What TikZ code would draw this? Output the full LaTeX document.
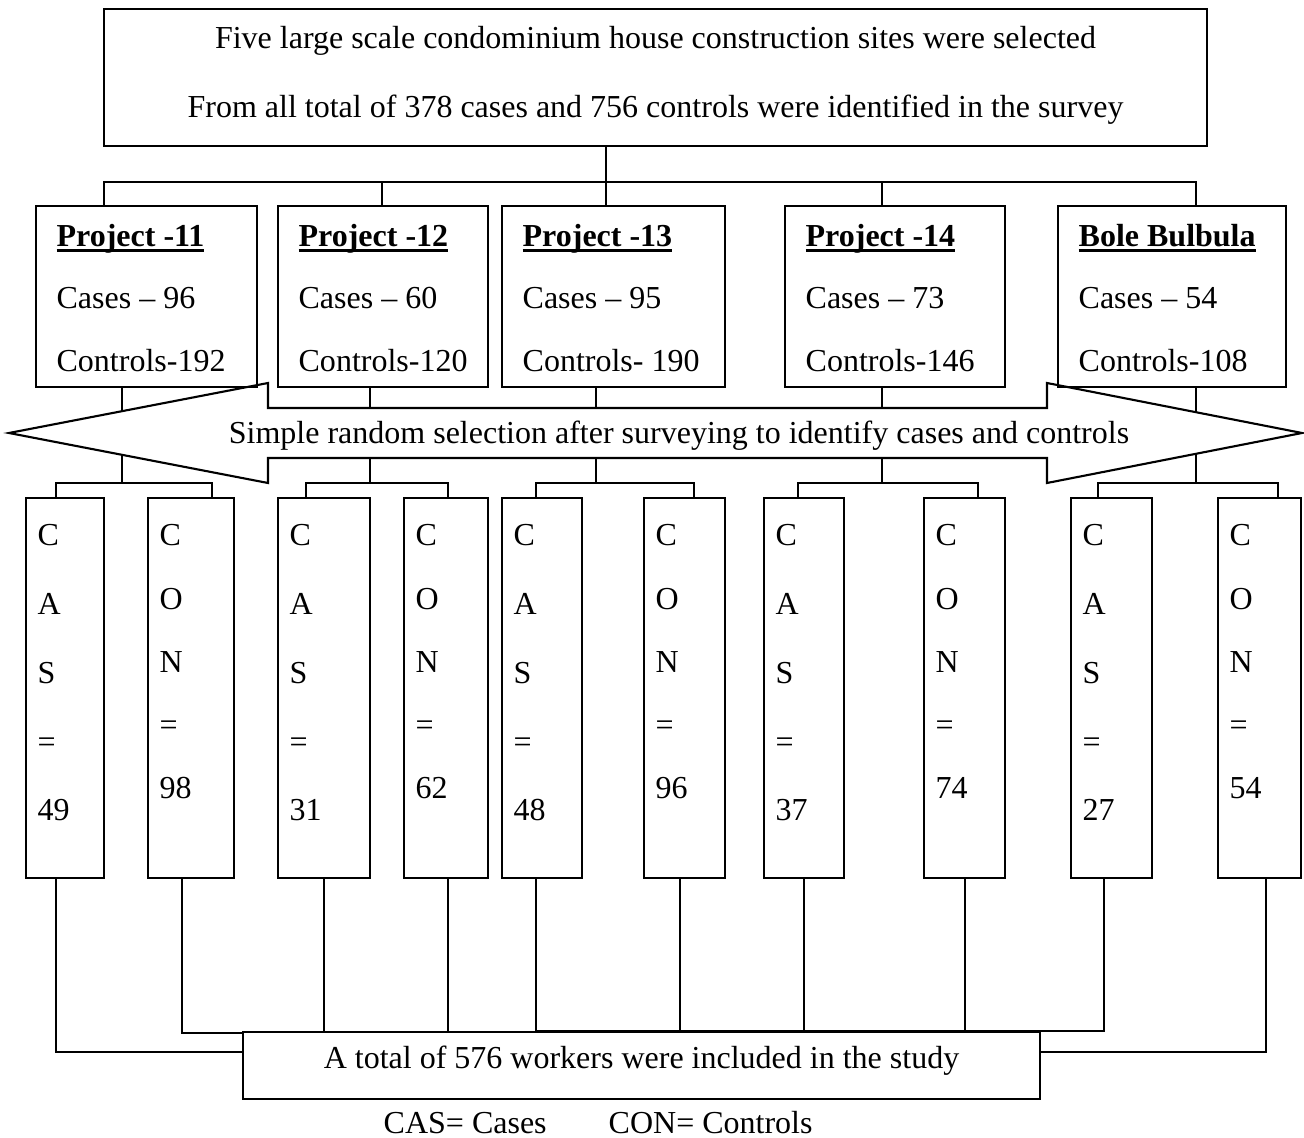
\documentclass[tikz,border=0pt]{standalone}
\usepackage{fontspec}
\setmainfont{Liberation Serif}
\usetikzlibrary{calc,fit,backgrounds}
\tikzset{
	sitebox/.style={draw, line width=0.6pt, inner sep=0pt, fit={#1}},
	txt/.style={anchor=base west, inner sep=0pt, font=\fontsize{9.1pt}{11pt}\selectfont},
	link/.style={line width=0.6pt}
}
\newcommand\ulb[1]{\setbox0\hbox{\textbf{#1}}\rlap{\rule[-1.4pt]{\wd0}{0.8pt}}\box0}

\begin{document}
\begin{tikzpicture}[x=0.01cm, y=-0.01cm]
			%%%%% START %%%%%
			\useasboundingbox (0,0) rectangle (1304,1137);
			
			\node[sitebox={(104,9) (1207,146)}] (top) {};
			\node[txt, anchor=base] (top1) at ($(top.north)+(0,41)$) {Five large scale condominium house construction sites were selected};
			\node[txt, anchor=base] (top2) at ($(top.north)+(0,110)$) {From all total of 378 cases and 756 controls were identified in the survey};
			
			\foreach \n/\xa/\xb/\ttl/\cs/\ct in {
				p11/36/257/Project -11/Cases – 96/Controls-192,
				p12/278/488/Project -12/Cases – 60/Controls-120,
				p13/502/725/Project -13/Cases – 95/Controls- 190,
				p14/785/1005/Project -14/Cases – 73/Controls-146,
				pbb/1058/1286/Bole Bulbula/Cases – 54/Controls-108}{
				\node[sitebox={(\xa,206) (\xb,387)}] (\n) {};
				\node[txt] (\n-t) at ($(\n.north west)+(21,42)$) {\ulb{\ttl}};
				\node[txt] (\n-a) at ($(\n.north west)+(21,104)$) {\cs};
				\node[txt] (\n-b) at ($(\n.north west)+(21,167)$) {\ct};
			}
			
			\coordinate (bus) at (606,182);
			\draw[link] (top.south -| bus) -- (bus);
			\draw[link] (p11.north -| 104,0) |- (bus) -| (pbb.north -| 1196,0);
			\foreach \n/\x in {p12/382, p13/606, p14/882}
				\draw[link] (\n.north -| \x,0) -- (bus -| \x,0);
			
			\foreach \n/\xa/\xb in {c1/26/104, c2/148/234, c3/278/370, c4/404/488, c5/502/582,
				c6/644/725, c7/764/844, c8/924/1005, c9/1071/1152, c10/1218/1301}
				\node[sitebox={(\xa,498) (\xb,878)}] (\n) {};
			
			\foreach \n/\v in {c1/49, c3/31, c5/48, c7/37, c9/27}
				\foreach \ch [count=\k from 0] in {C,A,S,=,\v}
					\node[txt] (\n-\k) at ($(\n.north west)+(12,{49+68.75*\k})$) {\ch};
			\foreach \n/\v in {c2/98, c4/62, c6/96, c8/74, c10/54}
				\foreach \ch [count=\k from 0] in {C,O,N,=,\v}
					\node[txt] (\n-\k) at ($(\n.north west)+(12,{49+63.25*\k})$) {\ch};
			
			\begin{scope}[on background layer]
				\foreach \n/\s/\a/\b/\i in {p11/122/56/212/1, p12/370/306/448/3, p13/596/536/694/5,
					p14/882/798/978/7, pbb/1196/1098/1278/9}{
					\pgfmathtruncatemacro\j{\i+1}
					\coordinate (g\n) at (\s,483);
					\draw[link] (\n.south -| g\n) -- (g\n);
					\draw[link] (c\i.north -| \a,0) |- (g\n) -| (c\j.north -| \b,0);
				}
				\draw[link, fill=white] (9,433) -- (268,383) -- (268,408) -- (1047,408) -- (1047,383)
					-- (1302,433) -- (1047,483) -- (1047,458) -- (268,458) -- (268,483) -- cycle;
			\end{scope}
			\node[txt, anchor=base] (sel) at (679,443) {Simple random selection after surveying to identify cases and controls};
			
			\node[sitebox={(243,1032) (1040,1099)}] (total) {};
			\node[txt, anchor=base] (total-t) at ($(total.north)+(0,38)$) {A total of 576 workers were included in the study};
			
			\draw[link] (c1.south -| 56,0) |- (total.west |- 0,1052);
			\draw[link] (c2.south -| 182,0) |- (total.west |- 0,1033);
			\foreach \n/\x in {c3/324, c4/448, c6/680, c7/804, c8/965}
				\draw[link] (\n.south -| \x,0) -- (total.north -| \x,0);
			\draw[link] (c5.south -| 536,0) -- (total.north -| 536,0) -- (total.north -| 1104,0) -- (c9.south -| 1104,0);
			\draw[link] (c10.south -| 1266,0) |- (total.east |- 0,1052);
			
			\node[txt] (legcas) at (383,1133) {CAS= Cases};
			\node[txt] (legcon) at (608,1133) {CON= Controls};
			%%%%% END %%%%%
\end{tikzpicture}
\end{document}
